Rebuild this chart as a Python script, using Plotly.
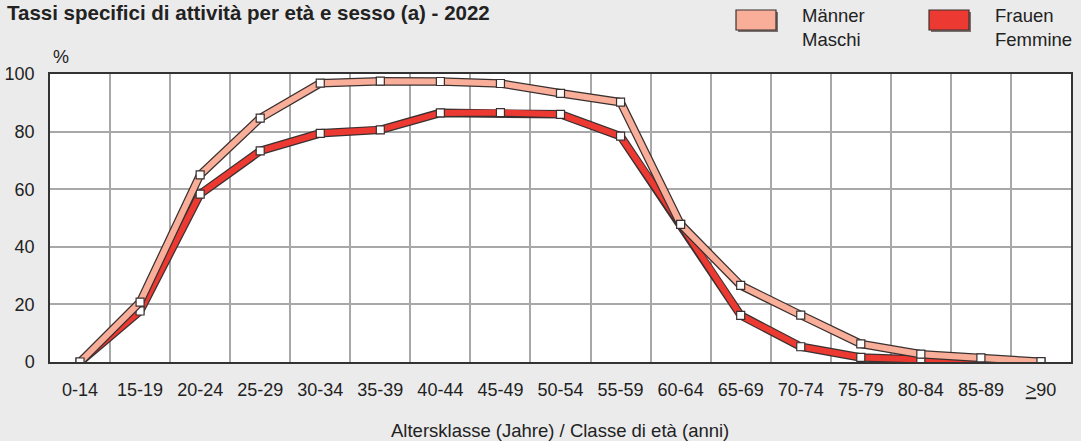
import plotly.graph_objects as go

# ---------------- data ----------------
age_classes = ["0-14", "15-19", "20-24", "25-29", "30-34", "35-39", "40-44", "45-49",
               "50-54", "55-59", "60-64", "65-69", "70-74", "75-79", "80-84", "85-89", "≥90"]
tick_labels = ["0-14", "15-19", "20-24", "25-29", "30-34", "35-39", "40-44", "45-49",
               "50-54", "55-59", "60-64", "65-69", "70-74", "75-79", "80-84", "85-89", "<u>></u>90"]
men = [0.0, 20.8, 65.0, 84.7, 96.8, 97.5, 97.4, 96.7, 93.3, 90.2, 47.8, 26.6, 16.3, 6.3, 2.7, 1.4, 0.1]
women = [0.0, 17.7, 58.3, 73.3, 79.4, 80.6, 86.5, 86.6, 86.0, 78.4, 47.8, 16.2, 5.3, 1.6, 0.9, 0.3, 0.0]

title_text = "Tassi specifici di attività per età e sesso (a) - 2022"
legend_men = "Männer<br>Maschi"
legend_women = "Frauen<br>Femmine"
x_title = "Altersklasse (Jahre) / Classe di età (anni)"

# ---------------- style ----------------
W, H = 1081, 441
ML, MR, MT, MB = 50, 10, 74, 79
MEN_COL = "#F8AE98"
WOMEN_COL = "#EC3A32"
EDGE = "#3a3030"
BG = "#EBEBEB"
TXT = "#222222"
FONT = "Liberation Sans, Arial, sans-serif"

def px_x(px):
    return (px - ML) / (W - ML - MR)

def px_y(py):
    return (H - MB - py) / (H - MT - MB)

fig = go.Figure()

def add_series(vals, col):
    fig.add_trace(go.Scatter(x=age_classes, y=vals, mode="lines",
                             line=dict(color=EDGE, width=8.5), hoverinfo="skip", showlegend=False))
    fig.add_trace(go.Scatter(x=age_classes, y=vals, mode="lines",
                             line=dict(color=col, width=6), hoverinfo="skip", showlegend=False))
    fig.add_trace(go.Scatter(x=age_classes, y=vals, mode="markers",
                             marker=dict(symbol="square", size=8, color="white",
                                         line=dict(color=EDGE, width=1.2)),
                             showlegend=False))

add_series(women, WOMEN_COL)
add_series(men, MEN_COL)

fig.update_layout(
    width=W, height=H,
    margin=dict(l=ML, r=MR, t=MT, b=MB, autoexpand=False),
    paper_bgcolor=BG, plot_bgcolor="white",
    font=dict(family=FONT, size=18, color=TXT),
    showlegend=False,
)
fig.update_xaxes(
    type="category", range=[-0.5, 16.5], automargin=False,
    tickmode="array", tickvals=age_classes, ticktext=tick_labels,
    tickson="boundaries", ticks="", ticklabelstandoff=11,
    showgrid=True, gridcolor="#A8A8A8", gridwidth=1.5,
    showline=True, linecolor="#333333", linewidth=1.5, mirror=True,
    tickfont=dict(size=18, color=TXT), fixedrange=True,
)
fig.update_yaxes(
    range=[0, 100], tickvals=[0, 20, 40, 60, 80, 100], automargin=False,
    ticks="", ticklabelstandoff=10,
    showgrid=True, gridcolor="#A8A8A8", gridwidth=1.5, zeroline=False,
    showline=True, linecolor="#333333", linewidth=1.5, mirror=True,
    tickfont=dict(size=18, color=TXT), fixedrange=True,
)

# title
fig.add_annotation(text="<b>" + title_text + "</b>", xref="paper", yref="paper",
                   x=px_x(5), y=px_y(13), xanchor="left", yanchor="middle",
                   showarrow=False, font=dict(size=20.5, color=TXT, family=FONT))
# percent sign
fig.add_annotation(text="%", xref="paper", yref="paper",
                   x=px_x(51), y=px_y(57), xanchor="left", yanchor="middle",
                   showarrow=False, font=dict(size=18, color=TXT, family=FONT))
# x axis title
fig.add_annotation(text=x_title, xref="paper", yref="paper",
                   x=px_x(560), y=px_y(430), xanchor="center", yanchor="middle",
                   showarrow=False, font=dict(size=18.5, color=TXT, family=FONT))

# legend
for x0, col, label in [(736, MEN_COL, legend_men), (929, WOMEN_COL, legend_women)]:
    fig.add_shape(type="rect", xref="paper", yref="paper",
                  x0=px_x(x0 + 2), x1=px_x(x0 + 42), y0=px_y(32), y1=px_y(12),
                  fillcolor="#7a7070", line=dict(width=0), layer="above")
    fig.add_shape(type="rect", xref="paper", yref="paper",
                  x0=px_x(x0), x1=px_x(x0 + 40), y0=px_y(30), y1=px_y(10),
                  fillcolor=col, line=dict(color=EDGE, width=1.2), layer="above")
    fig.add_annotation(text=label, xref="paper", yref="paper",
                       x=px_x(x0 + 64), y=px_y(28), xanchor="left", yanchor="middle",
                       align="left", showarrow=False,
                       font=dict(size=18.5, color=TXT, family=FONT))

fig.write_html("out.html", config={"displayModeBar": False},
               post_script="document.body.style.margin='0';document.body.style.overflow='hidden';")
